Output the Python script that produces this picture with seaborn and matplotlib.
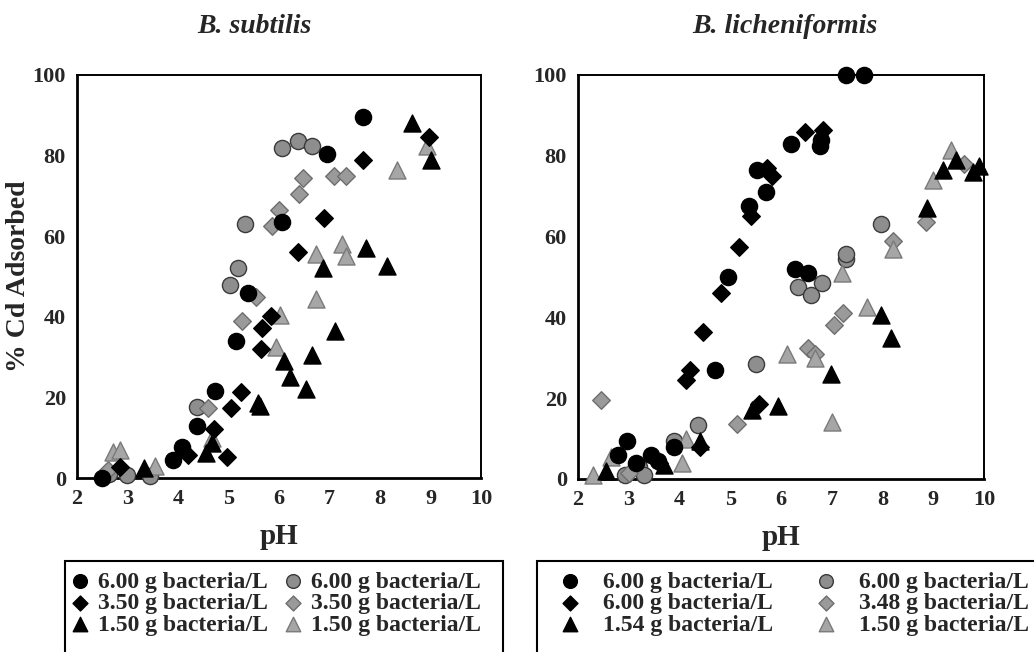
import numpy as np
import pandas as pd
import seaborn as sns
import matplotlib
matplotlib.use("Agg")
import matplotlib.pyplot as plt
from matplotlib.patches import Rectangle
from matplotlib.ticker import MultipleLocator

# ---------------- data: B. subtilis ----------------
sub_bc_x = [2.5, 3.9, 4.08, 4.38, 4.73, 5.15, 5.39, 6.05, 6.95, 7.67]
sub_bc_y = [0, 4.5, 7.8, 12.8, 21.5, 34, 46, 63.5, 80.5, 89.5]
sub_bd_x = [2.85, 4.2, 4.98, 4.71, 5.04, 5.25, 5.64, 5.67, 5.84, 6.38, 6.9, 7.67, 8.97]
sub_bd_y = [2.8, 5.8, 5.2, 12.2, 17.4, 21.4, 32, 37.3, 40.2, 56, 64.5, 79, 84.5]
sub_bt_x = [3.32, 4.55, 4.68, 5.58, 5.62, 6.1, 6.22, 6.53, 6.66, 6.88, 7.11, 7.72, 8.13, 8.64, 9.0]
sub_bt_y = [2.4, 6.2, 8.6, 18.5, 17.8, 29, 25, 22, 30.5, 52, 36.5, 57, 52.5, 88, 79]
sub_gc_x = [2.63, 2.99, 3.45, 4.37, 5.03, 5.18, 5.33, 6.05, 6.37, 6.66]
sub_gc_y = [1, 0.8, 0.5, 17.5, 48, 52, 63, 82, 83.5, 82.5]
sub_gd_x = [2.62, 4.6, 5.26, 5.54, 5.87, 6.0, 6.40, 6.47, 7.08, 7.32]
sub_gd_y = [2, 17.4, 39, 45, 62.5, 66.5, 70.5, 74.5, 75, 75]
sub_gt_x = [2.72, 2.86, 3.55, 4.68, 5.95, 6.01, 6.73, 6.73, 7.24, 7.32, 8.33, 8.94]
sub_gt_y = [6.5, 7, 3, 10, 32.5, 40.5, 44.5, 55.5, 58, 55, 76.5, 82.5]

# ---------------- data: B. licheniformis ----------------
lic_bc_x = [2.79, 2.97, 3.15, 3.44, 3.58, 3.9, 4.7, 4.96, 5.37, 5.52, 5.7, 6.2, 6.28, 6.54, 6.76, 6.79, 7.29, 7.64]
lic_bc_y = [6, 9.5, 4, 6, 4.5, 8, 27, 50, 67.5, 76.5, 71, 83, 52, 51, 82.5, 84, 100, 100]
lic_bd_x = [3.6, 4.13, 4.21, 4.4, 4.47, 4.82, 5.17, 5.4, 5.57, 5.73, 5.82, 6.47, 6.83]
lic_bd_y = [4, 24.5, 27, 8, 36.5, 46, 57.5, 65, 18.5, 77, 75, 86, 86.5]
lic_bt_x = [2.56, 3.7, 4.4, 5.42, 5.95, 6.98, 7.98, 8.16, 8.87, 9.19, 9.44, 9.79, 9.91]
lic_bt_y = [2, 3.5, 9.5, 17, 18, 26, 40.5, 35, 67, 76.5, 79, 76, 77.5]
lic_gc_x = [2.92, 3.2, 3.31, 3.9, 4.36, 5.5, 6.34, 6.6, 6.8, 7.29, 7.29, 7.97]
lic_gc_y = [1, 3, 1, 9.3, 13.3, 28.5, 47.5, 45.5, 48.5, 54.5, 55.7, 63]
lic_gd_x = [2.46, 3.0, 5.13, 6.54, 6.67, 7.05, 7.22, 8.21, 8.85, 9.61]
lic_gd_y = [19.5, 1.5, 13.5, 32.5, 31, 38, 41, 59, 63.5, 78]
lic_gt_x = [2.3, 2.66, 4.04, 4.13, 6.11, 6.67, 7.0, 7.2, 7.69, 8.21, 9.0, 9.35]
lic_gt_y = [1, 5.5, 4, 10, 31, 30, 14, 51, 42.5, 57, 74, 81.5]

sub_labels = ["6.00 g bacteria/L", "3.50 g bacteria/L", "1.50 g bacteria/L",
              "6.00 g bacteria/L", "3.50 g bacteria/L", "1.50 g bacteria/L"]
lic_labels = ["6.00 g bacteria/L", "6.00 g bacteria/L", "1.54 g bacteria/L",
              "6.00 g bacteria/L", "3.48 g bacteria/L", "1.50 g bacteria/L"]
titles = ["B. subtilis", "B. licheniformis"]
x_ticks = [2, 3, 4, 5, 6, 7, 8, 9, 10]
y_ticks = [0, 20, 40, 60, 80, 100]

sns.set_style("white")
plt.rcParams["font.family"] = ["Liberation Serif", "DejaVu Serif"]
plt.rcParams["font.weight"] = "bold"

styles = [
    dict(marker="o", s=135, color="#000000", edgecolor="#000000"),
    dict(marker="D", s=80, color="#000000", edgecolor="#000000"),
    dict(marker="^", s=150, color="#000000", edgecolor="#000000"),
    dict(marker="o", s=135, color="#8e8e8e", edgecolor="#3a3a3a"),
    dict(marker="D", s=80, color="#9a9a9a", edgecolor="#6e6e6e"),
    dict(marker="^", s=150, color="#a6a6a6", edgecolor="#7a7a7a"),
]

fig = plt.figure(figsize=(10.34, 6.52), dpi=100)
ax1 = fig.add_axes([77 / 1034, 1 - 478 / 652, 404 / 1034, 403 / 652])
ax2 = fig.add_axes([578 / 1034, 1 - 479 / 652, 406 / 1034, 404 / 652])

datasets = [
    [(sub_bc_x, sub_bc_y), (sub_bd_x, sub_bd_y), (sub_bt_x, sub_bt_y),
     (sub_gc_x, sub_gc_y), (sub_gd_x, sub_gd_y), (sub_gt_x, sub_gt_y)],
    [(lic_bc_x, lic_bc_y), (lic_bd_x, lic_bd_y), (lic_bt_x, lic_bt_y),
     (lic_gc_x, lic_gc_y), (lic_gd_x, lic_gd_y), (lic_gt_x, lic_gt_y)],
]
label_sets = [sub_labels, lic_labels]
draw_order = [3, 4, 5, 0, 1, 2]

for k, ax in enumerate([ax1, ax2]):
    for i in draw_order:
        xs, ys = datasets[k][i]
        st = styles[i]
        sns.scatterplot(x=xs, y=ys, ax=ax, marker=st["marker"], s=st["s"],
                        color=st["color"], edgecolor=st["edgecolor"],
                        linewidth=1.0, clip_on=False, zorder=3,
                        label=label_sets[k][i])
    ax.set_xlim(2, 10)
    ax.set_ylim(0, 100)
    ax.set_xticks(x_ticks)
    ax.set_yticks(y_ticks)
    ax.xaxis.set_minor_locator(MultipleLocator(0.2))
    ax.yaxis.set_minor_locator(MultipleLocator(4))
    ax.tick_params(axis="both", which="major", direction="in", length=8, width=1.2,
                   labelsize=16, top=False, right=False, pad=8)
    ax.tick_params(axis="both", which="minor", direction="in", length=4, width=0.8,
                   top=False, right=False)
    for lab in ax.get_xticklabels() + ax.get_yticklabels():
        lab.set_fontweight("bold")
    for name, sp in ax.spines.items():
        sp.set_visible(True)
        sp.set_color("black")
        sp.set_linewidth(2.0 if name in ("left", "bottom") else 1.4)
    ax.set_xlabel("pH", fontsize=21, fontweight="bold", labelpad=10)
    ax.grid(False)
    ax.get_legend().remove()

ax1.set_ylabel("% Cd Adsorbed", fontsize=20, fontweight="bold", labelpad=1)
ax2.set_ylabel("")
ax1.set_title(titles[0], fontsize=20, fontweight="bold", fontstyle="italic",
              x=(254 - 77) / 404, pad=30)
ax2.set_title(titles[1], fontsize=20, fontweight="bold", fontstyle="italic",
              x=(785 - 578) / 406, pad=30)

# legends
for k, ax in enumerate([ax1, ax2]):
    handles, labels = ax.get_legend_handles_labels()
    hmap = {draw_order[j]: handles[j] for j in range(6)}
    hs = [hmap[i] for i in range(6)]
    ls = label_sets[k]
    if k == 0:
        anchor = (70.6 / 1034, 1 - 571 / 652)
        tpad, cspace = 0.36, 0.66
    else:
        anchor = (560.6 / 1034, 1 - 571 / 652)
        tpad, cspace = 1.0, 1.85
    fig.legend(hs, ls, ncol=2, loc="upper left", bbox_to_anchor=anchor,
               frameon=False, handlelength=0.8, handletextpad=tpad,
               columnspacing=cspace, labelspacing=0.0, borderpad=0,
               borderaxespad=0, markerscale=0.85,
               prop={"weight": "bold", "size": 17})

fig.add_artist(Rectangle((65 / 1034, -0.05), (503 - 65) / 1034, (1 - 561 / 652) + 0.05,
                         transform=fig.transFigure, fill=False, edgecolor="black",
                         linewidth=1.5))
fig.add_artist(Rectangle((537 / 1034, -0.05), 0.6, (1 - 561 / 652) + 0.05,
                         transform=fig.transFigure, fill=False, edgecolor="black",
                         linewidth=1.5))

fig.savefig("out.png", dpi=100)
